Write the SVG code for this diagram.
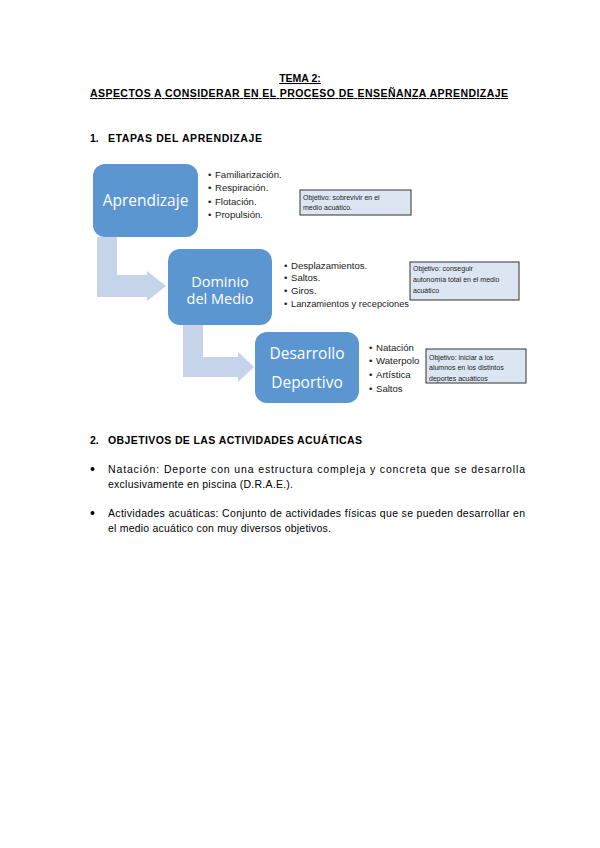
<svg xmlns="http://www.w3.org/2000/svg" width="600" height="848" viewBox="0 0 600 848">
<style>
.hd{font-family:"Liberation Sans",Arial,sans-serif;font-weight:bold;font-size:10.5px;fill:#000}
.p{font-family:"Liberation Sans",Arial,sans-serif;font-size:10.5px;fill:#000}
.box{fill:#5b96d1}
.bt{font-family:"Open Sans","Liberation Sans",sans-serif;font-size:15.5px;fill:#fff;text-anchor:middle}
.bt2{font-family:"Open Sans","Liberation Sans",sans-serif;font-size:14.5px;fill:#fff;text-anchor:middle}
.li{font-family:"Liberation Sans",sans-serif;font-size:9.6px;fill:#222}
.ob{fill:#dce6f2;stroke:#333;stroke-width:1}
.ot{font-family:"Liberation Sans",sans-serif;font-size:7px;fill:#222}
.arr{fill:#c6d4e9}
</style>
<rect width="600" height="848" fill="#fff"/>
<g id="header">
<text class="hd" x="300" y="82" text-anchor="middle" text-decoration="underline">TEMA 2:</text>
<text class="hd" x="90" y="97" textLength="418" lengthAdjust="spacing" text-decoration="underline">ASPECTOS A CONSIDERAR EN EL PROCESO DE ENSEÑANZA APRENDIZAJE</text>
<text class="hd" x="90" y="142">1.</text>
<text class="hd" x="108" y="142" textLength="154" lengthAdjust="spacing">ETAPAS DEL APRENDIZAJE</text>
</g>
<g id="connectors">
<path class="arr" d="M97,237 H117 V275 H147 V271 L166,286 L147,301 V297 H97 Z"/>
<path class="arr" d="M183,323 H203 V357 H238 V352 L254,367 L238,382 V377 H183 Z"/>
</g>
<g id="aprendizaje">
<rect class="box" x="93" y="164" width="105" height="73" rx="12"/>
<text class="bt" x="145.5" y="206">Aprendizaje</text>
</g>
<g id="list1">
<text class="li" x="208" y="177.5">•</text><text class="li" x="215" y="177.5">Familiarización.</text>
<text class="li" x="208" y="191">•</text><text class="li" x="215" y="191">Respiración.</text>
<text class="li" x="208" y="204.5">•</text><text class="li" x="215" y="204.5">Flotación.</text>
<text class="li" x="208" y="218">•</text><text class="li" x="215" y="218">Propulsión.</text>
</g>
<g id="obj1">
<rect class="ob" x="300" y="190" width="111" height="25"/>
<text class="ot" x="303" y="200">Objetivo: sobrevivir en el</text>
<text class="ot" x="303" y="210">medio acuático.</text>
</g>
<g id="dominio">
<rect class="box" x="168" y="249" width="104" height="76" rx="12"/>
<text class="bt2" x="220" y="286.5">Dominio</text>
<text class="bt2" x="220" y="304">del Medio</text>
</g>
<g id="list2">
<text class="li" x="284" y="268.5">•</text><text class="li" x="291" y="268.5">Desplazamientos.</text>
<text class="li" x="284" y="281">•</text><text class="li" x="291" y="281">Saltos.</text>
<text class="li" x="284" y="293.5">•</text><text class="li" x="291" y="293.5">Giros.</text>
<text class="li" x="284" y="306.5">•</text><text class="li" x="291" y="306.5" textLength="118" lengthAdjust="spacingAndGlyphs">Lanzamientos y recepciones</text>
</g>
<g id="obj2">
<rect class="ob" x="410" y="262" width="109" height="38"/>
<text class="ot" x="413" y="271">Objetivo: conseguir</text>
<text class="ot" x="413" y="282">autonomía total en el medio</text>
<text class="ot" x="413" y="293">acuático</text>
</g>
<g id="desarrollo">
<rect class="box" x="255" y="332" width="104" height="71" rx="12"/>
<text class="bt" x="307" y="359">Desarrollo</text>
<text class="bt" x="307" y="388">Deportivo</text>
</g>
<g id="list3">
<text class="li" x="369" y="350.5">•</text><text class="li" x="376" y="350.5">Natación</text>
<text class="li" x="369" y="364">•</text><text class="li" x="376" y="364">Waterpolo</text>
<text class="li" x="369" y="377.5">•</text><text class="li" x="376" y="377.5">Artística</text>
<text class="li" x="369" y="391.5">•</text><text class="li" x="376" y="391.5">Saltos</text>
</g>
<g id="obj3">
<rect class="ob" x="426" y="349" width="100" height="34"/>
<text class="ot" x="429" y="359.5">Objetivo: iniciar a los</text>
<text class="ot" x="429" y="370">alumnos en los distintos</text>
<text class="ot" x="429" y="380.5">deportes acuáticos</text>
</g>
<g id="section2">
<text class="hd" x="90" y="444">2.</text>
<text class="hd" x="108" y="444" textLength="254" lengthAdjust="spacing">OBJETIVOS DE LAS ACTIVIDADES ACUÁTICAS</text>
<circle cx="92.5" cy="469" r="2" fill="#000"/>
<text class="p" x="108" y="472.5" textLength="417" lengthAdjust="spacing">Natación: Deporte con una estructura compleja y concreta que se desarrolla</text>
<text class="p" x="108" y="488" textLength="185" lengthAdjust="spacing">exclusivamente en piscina (D.R.A.E.).</text>
<circle cx="92.5" cy="513" r="2" fill="#000"/>
<text class="p" x="108" y="516.5" textLength="417" lengthAdjust="spacing">Actividades acuáticas: Conjunto de actividades físicas que se pueden desarrollar en</text>
<text class="p" x="108" y="532" textLength="223" lengthAdjust="spacing">el medio acuático con muy diversos objetivos.</text>
</g>
</svg>
